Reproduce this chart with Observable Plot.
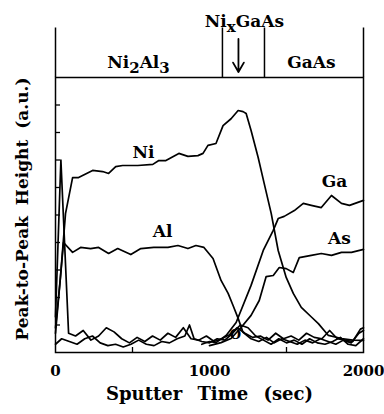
<!DOCTYPE html>
<html>
<head>
<meta charset="utf-8">
<script src="https://cdn.jsdelivr.net/npm/d3@7"></script>
<script src="https://cdn.jsdelivr.net/npm/@observablehq/plot@0.6"></script>
<style>
  html, body { margin: 0; padding: 0; background: white; }
</style>
</head>
<body>
<div id="chart"></div>
<script>
// ---- data ----
const niT = [0, 30, 65, 111, 150, 241, 306, 345, 391, 436, 534, 632, 671, 717, 801, 860, 925, 958, 990, 1042, 1088, 1140, 1186, 1218, 1238, 1270, 1316, 1355, 1401, 1446, 1498, 1544, 1596, 1660, 1707, 1772, 1857, 1930, 2000];
const niV = [0.9, 2.6, 5.05, 6.36, 6.36, 6.62, 6.58, 6.51, 6.76, 6.8, 6.8, 6.84, 6.98, 6.98, 7.24, 7.13, 7.16, 7.24, 7.53, 7.6, 8.25, 8.5, 8.8, 8.76, 8.69, 8.07, 7.09, 6.15, 5.05, 3.71, 2.73, 2.15, 1.64, 1.3, 1.05, 0.62, 0.51, 0.45, 0.44];

const alT = [0, 52, 111, 163, 228, 280, 345, 404, 489, 554, 638, 730, 795, 860, 912, 964, 1023, 1075, 1121, 1153, 1186, 1218, 1270, 1320, 1370, 1420, 1470, 1520, 1570, 1620, 1670, 1720, 1770, 1820, 1870, 1920, 1970, 2000];
const alV = [0.7, 4.0, 3.64, 3.82, 3.78, 3.82, 3.6, 3.78, 3.56, 3.78, 3.82, 3.82, 3.89, 3.78, 3.89, 3.82, 3.42, 2.62, 2.15, 1.71, 1.24, 0.73, 0.5, 0.4, 0.55, 0.35, 0.5, 0.4, 0.3, 0.45, 0.35, 0.5, 0.4, 0.3, 0.45, 0.35, 0.7, 0.8];

const gaT = [950, 1000, 1042, 1108, 1173, 1270, 1349, 1414, 1446, 1485, 1551, 1609, 1661, 1726, 1792, 1857, 1909, 2000];
const gaV = [0.3, 0.4, 0.36, 0.62, 1.09, 2.44, 3.71, 4.44, 4.87, 4.95, 5.16, 5.42, 5.35, 5.27, 5.71, 5.42, 5.35, 5.53];

const asT = [1000, 1075, 1140, 1205, 1270, 1323, 1368, 1414, 1453, 1498, 1544, 1583, 1661, 1726, 1792, 1857, 1922, 2000];
const asV = [0.25, 0.36, 0.51, 0.91, 1.35, 1.89, 2.76, 2.8, 3.09, 3.05, 2.91, 3.45, 3.53, 3.6, 3.53, 3.64, 3.64, 3.75];

const cT = [0, 35, 85, 130, 180, 230, 280, 330, 380, 430, 480, 530, 580, 630, 680, 730, 780, 830, 880, 930, 980, 1030, 1080, 1130, 1180, 1230, 1280, 1330, 1380, 1430, 1480, 1530, 1580, 1630, 1680, 1730, 1780, 1830, 1880, 1930, 1980, 2000];
const cV = [1.3, 7.0, 0.7, 0.6, 0.8, 0.45, 0.6, 0.9, 0.75, 0.5, 0.35, 0.55, 0.4, 0.6, 0.45, 0.7, 0.55, 0.9, 0.5, 0.45, 0.6, 0.4, 0.5, 0.65, 0.9, 0.7, 0.55, 0.6, 0.45, 0.7, 0.5, 0.6, 0.45, 0.7, 0.55, 0.5, 0.8, 0.5, 0.45, 0.4, 0.85, 0.9];

const oT = [0, 40, 90, 140, 190, 240, 290, 340, 390, 440, 490, 540, 590, 640, 690, 740, 790, 840, 870, 900, 950, 1000, 1050, 1100, 1150, 1200, 1250, 1300, 1350, 1400, 1450, 1500, 1550, 1600, 1650, 1700, 1750, 1800, 1850, 1900, 1950, 2000];
const oV = [0.3, 0.5, 0.4, 0.3, 0.5, 0.6, 0.35, 0.25, 0.3, 0.2, 0.3, 0.45, 0.3, 0.25, 0.4, 0.35, 0.5, 0.6, 1.0, 0.5, 0.4, 0.35, 0.5, 0.45, 0.7, 1.0, 0.9, 0.6, 0.45, 0.3, 0.5, 0.35, 0.45, 0.3, 0.5, 0.35, 0.3, 0.4, 0.55, 0.3, 0.25, 0.5];

const curveLabels = ["Ni", "Al", "Ga", "As", "O"];
const curveLabelT = [571, 695, 1812, 1844, 1169];
const curveLabelV = [7.27, 4.4, 6.22, 4.15, 0.65];

const regionBounds = [0, 1084, 1357, 2000];
const regionLabels = ["Ni2Al3", "GaAs", "NixGaAs"];
const regionLabelT = [539, 1662, 1227];
const regionLabelV = [10.55, 10.55, 12.04];
const arrowT = 1188;

const xTickLabels = [0, 1000, 2000];
const xMinorTicks = [500, 1500];
const yTicks = [1, 2, 3, 4, 5, 6, 7, 8, 9];

const xTitle = "Sputter Time (sec)";
const yTitle = "Peak-to-Peak Height (a.u.)";

// ---- build table ----
const series = [
  ["Ni", niT, niV], ["Al", alT, alV], ["Ga", gaT, gaV],
  ["As", asT, asV], ["C", cT, cV], ["O", oT, oV]
];
const rows = series.flatMap(([name, ts, vs]) => ts.map((t, i) => ({series: name, t, v: vs[i]})));
const labelRows = curveLabels.map((s, i) => ({s, t: curveLabelT[i], v: curveLabelV[i]}));
const regionRows = regionLabels.map((s, i) => ({s, t: regionLabelT[i], v: regionLabelV[i]}));

const W = 384, H = 414;
const mL = 55, mR = 21, mT = 77, mB = 62;
const innerW = W - mL - mR, innerH = H - mT - mB;

const chart = Plot.plot({
  width: W,
  height: H,
  marginLeft: mL,
  marginRight: mR,
  marginTop: mT,
  marginBottom: mB,
  style: {fontFamily: "DejaVu Serif", fontWeight: "bold", fontSize: "15px", background: "white", color: "black"},
  x: {domain: [0, 2000], ticks: xTickLabels, tickSize: 0, tickPadding: 13, tickFormat: d => String(d), label: null},
  y: {domain: [0, 10], axis: null},
  marks: [
    Plot.frame({stroke: "black", strokeWidth: 1.5}),
    Plot.ruleX(regionBounds, {x: d => d, y1: 10, y2: 11.8, stroke: "black", strokeWidth: 1.5}),
    Plot.tickY(yTicks, {y: d => d, insetRight: innerW - 5, stroke: "black", strokeWidth: 1.3}),
    Plot.tickX(xMinorTicks, {x: d => d, insetTop: innerH - 5, stroke: "black", strokeWidth: 1.3}),
    Plot.line(rows, {x: "t", y: "v", z: "series", stroke: "black", strokeWidth: 1.7, curve: "linear"}),
    Plot.arrow([arrowT], {x1: d => d, x2: d => d, y1: 11.4, y2: 10.2, stroke: "black", strokeWidth: 1.8, headLength: 9}),
    Plot.text(labelRows.filter(d => d.s !== "O"), {x: "t", y: "v", text: "s", fontSize: 17, fill: "black"}),
    Plot.text(labelRows.filter(d => d.s === "O"), {x: "t", y: "v", text: "s", fontSize: 13, fill: "black"}),
    Plot.text(regionRows, {x: "t", y: "v", text: "s", fontSize: 17, fill: "black"}),
    Plot.text([xTitle], {frameAnchor: "bottom", dy: 47, fontSize: 18, fill: "black", textAnchor: "middle"}),
    Plot.text([yTitle], {frameAnchor: "left", dx: -33, dy: -6, rotate: -90, fontSize: 17, fill: "black", textAnchor: "middle"})
  ]
});

// subscripts for chemical formulas; wider word spacing on axis titles
const subs = {
  "Ni2Al3": [["Ni", false], ["2", true], ["Al", false], ["3", true]],
  "NixGaAs": [["Ni", false], ["x", true], ["GaAs", false]]
};
d3.select(chart).selectAll("text").each(function() {
  const txt = this.textContent;
  if (txt === xTitle) d3.select(this).style("word-spacing", "9px");
  if (txt === yTitle) d3.select(this).style("word-spacing", "5px");
  const parts = subs[txt];
  if (!parts) return;
  const el = d3.select(this);
  el.text("");
  let down = false;
  for (const [s, sub] of parts) {
    const ts = el.append("tspan").text(s);
    if (sub && !down) { ts.attr("dy", 5).attr("font-size", 15); down = true; }
    else if (sub) { ts.attr("font-size", 15); }
    else if (!sub && down) { ts.attr("dy", -5); down = false; }
  }
});

document.getElementById("chart").appendChild(chart);
</script>
</body>
</html>
